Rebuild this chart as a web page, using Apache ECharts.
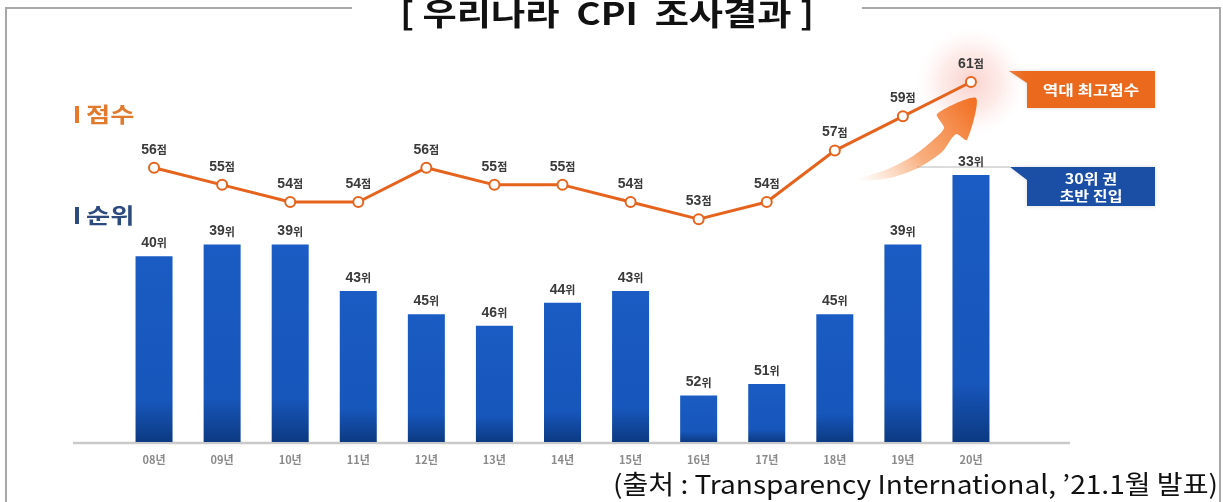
<!DOCTYPE html>
<html>
<head>
<meta charset="utf-8">
<script src="https://cdn.jsdelivr.net/npm/echarts@6/dist/echarts.min.js"></script>
<style>
  html, body { margin: 0; padding: 0; background: #fff; }
  #main { width: 1223px; height: 502px; }
</style>
</head>
<body>
<div id="main"></div>
<script>
// 연도
var years = ['08년', '09년', '10년', '11년', '12년', '13년', '14년', '15년', '16년', '17년', '18년', '19년', '20년'];
// CPI 점수
var scores = [56, 55, 54, 54, 56, 55, 55, 54, 53, 54, 57, 59, 61];
// CPI 순위
var ranks = [40, 39, 39, 43, 45, 46, 44, 43, 52, 51, 45, 39, 33];
// 순위 막대 높이 기준 (순위가 높을수록 막대가 길어짐)
var rankBase = 56;

var chart = echarts.init(document.getElementById('main'));
var font = '"Noto Sans CJK KR", "Noto Sans", sans-serif';

var labelRich = {
  n: { fontSize: 14, fontWeight: 'bold', color: '#3a3a3a', fontFamily: 'Arial, "Liberation Sans", sans-serif' },
  u: { fontSize: 11, fontWeight: 'bold', color: '#3a3a3a', fontFamily: font }
};

var option = {
  backgroundColor: '#ffffff',
  animation: false,
  grid: { left: 120, right: 218, top: 82, bottom: 60 },
  xAxis: {
    type: 'category',
    data: years,
    axisLine: { show: false },
    axisTick: { show: false },
    axisLabel: { color: '#8a8a8a', fontSize: 11, fontWeight: 'bold', margin: 12, fontFamily: font }
  },
  yAxis: [
    { type: 'value', min: 0, max: 31, show: false },
    { type: 'value', min: 40, max: 61, show: false }
  ],
  series: [
    {
      // 순위 막대
      type: 'bar',
      yAxisIndex: 0,
      barWidth: 37,
      data: ranks.map(function (r) { return rankBase - r; }),
      itemStyle: {
        color: {
          type: 'linear', x: 0, y: 0, x2: 0, y2: 1,
          colorStops: [
            { offset: 0, color: '#1a5cc3' },
            { offset: 0.78, color: '#1756bb' },
            { offset: 1, color: '#0c3a82' }
          ]
        }
      },
      label: {
        show: true,
        position: 'top',
        distance: 6,
        formatter: function (p) { return '{n|' + ranks[p.dataIndex] + '}{u|위}'; },
        rich: labelRich
      },
      z: 2
    },
    {
      // 최고점수 강조
      type: 'scatter',
      yAxisIndex: 1,
      symbolSize: 110,
      silent: true,
      data: [[years[years.length - 1], scores[scores.length - 1]]],
      itemStyle: {
        color: {
          type: 'radial', x: 0.5, y: 0.5, r: 0.5,
          colorStops: [
            { offset: 0, color: 'rgba(243,150,140,0.55)' },
            { offset: 0.55, color: 'rgba(248,185,175,0.35)' },
            { offset: 1, color: 'rgba(255,230,225,0)' }
          ]
        }
      },
      z: 1
    },
    {
      // 점수 꺾은선
      type: 'line',
      yAxisIndex: 1,
      data: scores,
      symbol: 'circle',
      symbolSize: 10,
      lineStyle: { color: '#e5631c', width: 3 },
      itemStyle: { color: '#ffffff', borderColor: '#e5631c', borderWidth: 2 },
      label: {
        show: true,
        position: 'top',
        distance: 5,
        formatter: function (p) { return '{n|' + p.value + '}{u|점}'; },
        rich: labelRich
      },
      z: 5
    }
  ],
  graphic: [
    // 테두리
    { type: 'polyline', shape: { points: [[352, 8], [6, 8], [6, 502]] }, style: { stroke: '#a8a8a8', lineWidth: 2, fill: null }, silent: true },
    { type: 'polyline', shape: { points: [[862, 8], [1220, 8], [1220, 502]] }, style: { stroke: '#a8a8a8', lineWidth: 2, fill: null }, silent: true },
    // 제목
    {
      type: 'text', x: 607, y: 13, scaleX: 1.2,
      style: { text: '[ 우리나라  CPI  조사결과 ]', font: 'bold 31px ' + font, fill: '#111', align: 'center', verticalAlign: 'middle' }
    },
    // 바닥선
    { type: 'line', shape: { x1: 73, y1: 443, x2: 1070, y2: 443 }, style: { stroke: '#c9c9c9', lineWidth: 2.5 }, z: 1, silent: true },
    // 범례 라벨
    { type: 'rect', shape: { x: 75, y: 106, width: 4, height: 17 }, style: { fill: '#e8782a' } },
    { type: 'text', x: 86, y: 114, scaleX: 1.25, style: { text: '점수', font: 'bold 21px ' + font, fill: '#e27a2e', verticalAlign: 'middle' } },
    { type: 'rect', shape: { x: 75, y: 207, width: 4, height: 17 }, style: { fill: '#2c4a7e' } },
    { type: 'text', x: 86, y: 215, scaleX: 1.25, style: { text: '순위', font: 'bold 21px ' + font, fill: '#2c4a7e', verticalAlign: 'middle' } },
    // 상승 화살표
    {
      type: 'polygon',
      shape: {
        points: [[858, 179], [888, 169], [913, 156], [932, 141], [944, 128], [937, 114], [976, 98], [967, 140],
          [956, 134], [942, 152], [918, 168], [890, 178], [858, 181]],
        smooth: 0.25
      },
      style: {
        fill: {
          type: 'linear', x: 0, y: 1, x2: 1, y2: 0,
          colorStops: [
            { offset: 0, color: 'rgba(248,170,120,0)' },
            { offset: 0.45, color: 'rgba(245,140,70,0.7)' },
            { offset: 1, color: '#f26d1f' }
          ]
        }
      },
      z: 3
    },
    // 역대 최고점수 말풍선
    {
      type: 'polygon',
      shape: { points: [[1009, 71], [1155, 71], [1155, 108], [1027, 108], [1027, 83]] },
      style: { fill: '#ea691d', shadowBlur: 4, shadowColor: 'rgba(0,0,0,0.15)' }
    },
    { type: 'text', x: 1091, y: 90, scaleX: 1.2, style: { text: '역대 최고점수', font: 'bold 14px ' + font, fill: '#fff', align: 'center', verticalAlign: 'middle' } },
    // 30위권 말풍선
    { type: 'line', shape: { x1: 917, y1: 167, x2: 1010, y2: 167 }, style: { stroke: '#b8b8b8', lineWidth: 1 } },
    {
      type: 'polygon',
      shape: { points: [[1010, 167], [1155, 167], [1155, 206], [1027, 206], [1027, 180]] },
      style: { fill: '#1b4fa6', shadowBlur: 4, shadowColor: 'rgba(0,0,0,0.15)' }
    },
    { type: 'text', x: 1091, y: 187, scaleX: 1.15, style: { text: '30위 권\n초반 진입', font: 'bold 14px ' + font, fill: '#fff', align: 'center', verticalAlign: 'middle', lineHeight: 17 } },
    // 출처
    {
      type: 'text', x: 1218, y: 484, scaleX: 1.08,
      style: { text: '(출처 : Transparency International, \u201921.1월 발표)', font: '26px ' + font, fill: '#111', align: 'right', verticalAlign: 'middle' }
    }
  ]
};

chart.setOption(option);
</script>
</body>
</html>
